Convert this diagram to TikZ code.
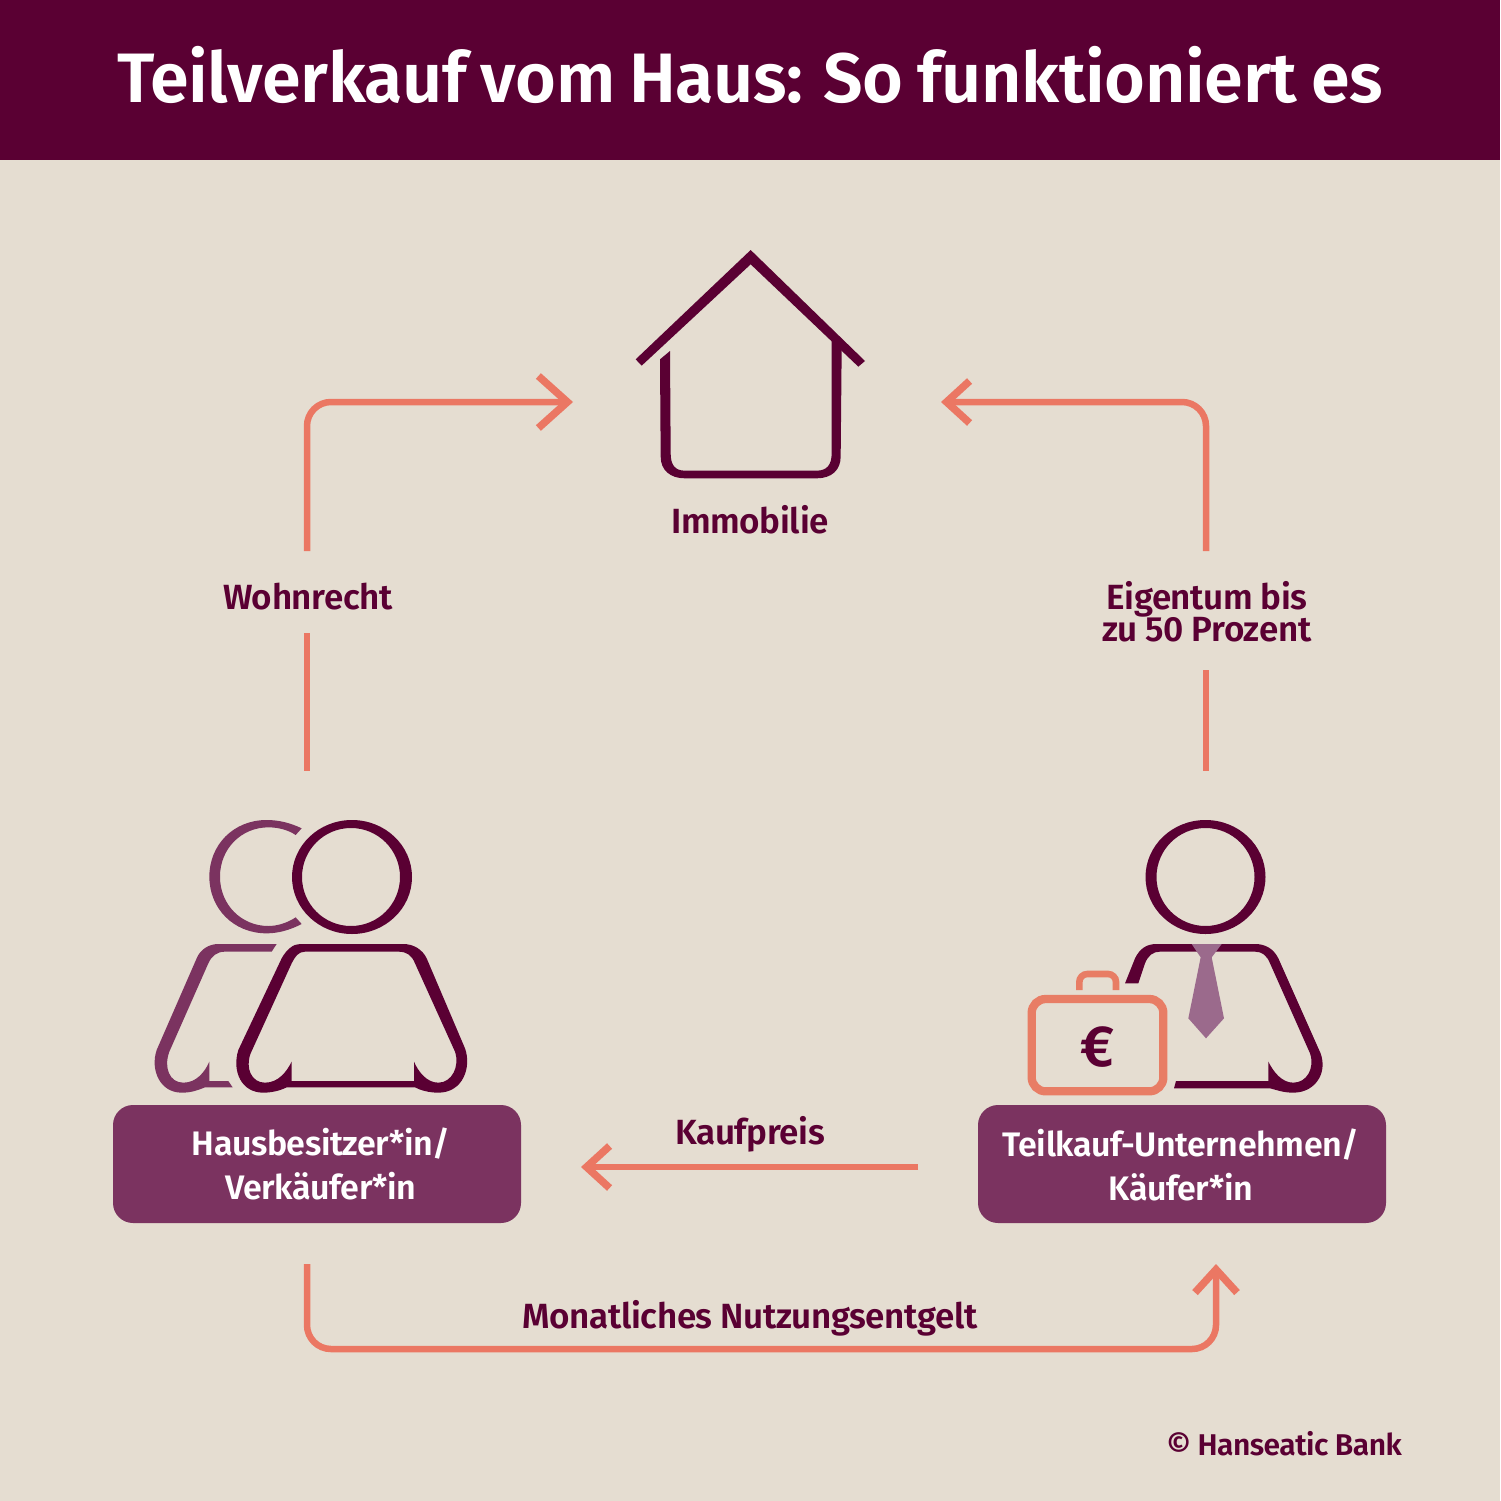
\documentclass[tikz,border=0pt]{standalone}
\usepackage{fontspec}
\setmainfont{Fira Sans}[BoldFont={Fira Sans SemiBold}]
\usetikzlibrary{arrows.meta}
\definecolor{wine}{HTML}{5A0033}
\definecolor{plum}{HTML}{7B3360}
\definecolor{sand}{HTML}{E5DDD1}
\definecolor{salmon}{HTML}{E87D65}
\definecolor{flowc}{HTML}{EB7763}
\definecolor{tiec}{HTML}{9B6A8C}
\newcommand\tightsp[1]{\spaceskip=#1em\relax}
\tikzset{
  flow/.style={draw=flowc,line width=6.5pt,rounded corners=24pt,
    -{Straight Barb[length=23pt,width=42pt,line width=7.5pt]}},
  flowbig/.style={flow,-{Straight Barb[length=29pt,width=52pt,line width=7.5pt]}},
  flowline/.style={draw=flowc,line width=6.5pt},
  lbl/.style={text=wine,font=\fontsize{35}{32}\selectfont\bfseries\addfontfeature{LetterSpace=-1}\tightsp{0.22},align=center,inner sep=0pt},
  boxtxt/.style={text=white,font=\fontsize{34}{44}\selectfont\bfseries\addfontfeature{LetterSpace=-1.3},align=center,inner sep=0pt},
  boxx/.style={fill=plum,rounded corners=20pt,minimum width=408pt,minimum height=118pt,inner sep=0pt},
  zoomA/.style={shift={(130,800)},x=0.33333pt,y=-0.33333pt},
  zoomB/.style={shift={(1000,800)},x=0.33333pt,y=-0.33333pt},
  zoomC/.style={shift={(600,230)},x=0.33333pt,y=-0.33333pt},
}
\begin{document}
\begin{tikzpicture}[x=1pt,y=-1pt]
\useasboundingbox (0,0) rectangle (1500,1501);
\fill[sand] (0,0) rectangle (1500,1501);
\fill[wine] (0,0) rectangle (1500,160);
\node[inner sep=0pt,text=white,font=\fontsize{70}{70}\selectfont\bfseries\addfontfeature{LetterSpace=-0.5}\tightsp{0.2}] (title) at (750,75) {Teilverkauf vom Haus: So funktioniert es};

% house
\begin{scope}[zoomC]
\fill[wine] (107,388) -- (452,60) -- (795,393) -- (775,410) -- (452,103) -- (125,407) -- cycle;
\fill[wine] (180,388) -- (210,363) -- (212,670) .. controls (212,705) and (225,722) .. (255,722) -- (650,722) .. controls (680,722) and (695,705) .. (695,670) -- (695,330) -- (725,360) -- (722,680) .. controls (722,720) and (695,745) .. (650,745) -- (255,745) .. controls (210,745) and (182,720) .. (182,680) -- cycle;
\end{scope}

% left people
\begin{scope}[zoomA]
\fill[plum] (515,85) .. controls (480,68) and (445,60) .. (410,60) .. controls (310,60) and (238,135) .. (238,230) .. controls (238,325) and (310,400) .. (410,400) .. controls (445,400) and (480,390) .. (515,372) -- (497,352) .. controls (470,370) and (440,378) .. (415,378) .. controls (335,378) and (270,315) .. (270,230) .. controls (270,145) and (335,82) .. (415,82) .. controls (445,82) and (475,90) .. (497,105) -- cycle;
\fill[plum] (440,432) -- (265,432) .. controls (235,432) and (210,450) .. (200,475) -- (80,750) .. controls (60,810) and (90,878) .. (155,878) .. controls (185,878) and (205,870) .. (225,862) -- (308,862) -- (295,843) -- (238,843) -- (238,785) .. controls (225,815) and (200,848) .. (160,848) .. controls (120,848) and (100,805) .. (118,755) -- (235,490) .. controls (245,468) and (260,455) .. (285,455) -- (425,455) -- cycle;
\fill[wine,even odd rule] (510,432) -- (820,432) .. controls (850,432) and (877,448) .. (890,475) -- (1005,745) .. controls (1025,800) and (1000,878) .. (925,878) .. controls (895,878) and (870,870) .. (855,862) -- (470,862) .. controls (450,872) and (425,878) .. (400,878) .. controls (335,878) and (305,815) .. (325,750) -- (455,475) .. controls (470,448) and (490,432) .. (510,432) -- cycle
 (525,455) -- (805,455) .. controls (830,455) and (845,465) .. (855,490) -- (975,755) .. controls (990,800) and (965,848) .. (925,848) .. controls (890,848) and (865,815) .. (852,785) -- (852,843) -- (485,843) -- (485,785) .. controls (470,815) and (445,848) .. (405,848) .. controls (365,848) and (345,805) .. (362,760) -- (485,490) .. controls (495,470) and (505,455) .. (525,455) -- cycle;
\end{scope}
\fill[wine,even odd rule] (352,877) ellipse [x radius=60pt,y radius=57pt] (351,877) circle [radius=49pt];

% right person
\fill[wine,even odd rule] (1205.5,877) ellipse [x radius=60pt,y radius=57pt] (1205.5,877) circle [radius=49pt];
\begin{scope}[zoomB]
\fill[wine] (375,550) -- (405,475) .. controls (420,445) and (440,432) .. (470,432) -- (765,432) .. controls (795,432) and (820,445) .. (835,475) -- (955,745) .. controls (990,810) and (950,878) .. (880,878) .. controls (850,878) and (830,870) .. (810,865) -- (522,865) -- (528,843) -- (805,843) -- (805,785) .. controls (820,815) and (845,848) .. (880,848) .. controls (920,848) and (945,805) .. (930,760) -- (810,490) .. controls (800,465) and (785,455) .. (765,455) -- (480,455) .. controls (460,455) and (445,465) .. (435,490) -- (415,550) -- cycle;
\fill[tiec] (575,432) -- (665,432) -- (635,472) -- (672,655) -- (618,715) -- (565,655) -- (602,472) -- cycle;
\draw[salmon,line width=8.3pt,rounded corners=14pt] (95,597) rectangle (490,874);
\draw[salmon,line width=6.6pt,rounded corners=8pt] (238,570) -- (238,522) -- (348,522) -- (348,570);
\end{scope}
\node[inner sep=0pt,text=wine,font=\fontsize{58}{58}\selectfont\bfseries] (euro) at (1098,1047) {€};

% boxes
\node[boxx] (boxL) at (317,1164) {};
\node[boxx] (boxR) at (1182,1164) {};
\node[boxtxt] (tL) at (321,1164) {Hausbesitzer*in/\\Verkäufer*in};
\node[boxtxt] (tR) at (1181,1165) {Teilkauf-Unternehmen/\\Käufer*in};

% labels
\node[lbl] (immo) at (750,520) {Immobilie};
\node[lbl] (wohn) at (308,597) {Wohnrecht};
\node[lbl] (eig) at (1207,612) {Eigentum bis\\zu 50 Prozent};
\node[lbl] (kauf) at (750,1134) {Kaufpreis};
\node[lbl] (mon) at (750,1318) {Monatliches Nutzungsentgelt};
\node[anchor=east,inner sep=0pt,text=wine,font=\fontsize{30}{30}\selectfont\bfseries\addfontfeature{LetterSpace=-1.8}\tightsp{0.22}] (copy) at (1402,1444) {© Hanseatic Bank};

% connector end points
\coordinate (a1) at (307,551);
\coordinate (a2) at (307,402);
\coordinate (a3) at (573,402);
\coordinate (a4) at (307,633);
\coordinate (a5) at (307,771);
\coordinate (b1) at (1206,551);
\coordinate (b2) at (1206,402);
\coordinate (b3) at (941,402);
\coordinate (b4) at (1206,670);
\coordinate (b5) at (1206,771);
\coordinate (c1) at (918,1167);
\coordinate (c2) at (581,1167);
\coordinate (d1) at (307,1264);
\coordinate (d2) at (307,1349);
\coordinate (d3) at (1216,1349);
\coordinate (d4) at (1216,1264);

\draw[flowbig] (a1) -- (a2) -- (a3);
\draw[flowline] (a4) -- (a5);
\draw[flow] (b1) -- (b2) -- (b3);
\draw[flowline] (b4) -- (b5);
\draw[flow] (c1) -- (c2);
\draw[flow] (d1) -- (d2) -- (d3) -- (d4);
\end{tikzpicture}
\end{document}
